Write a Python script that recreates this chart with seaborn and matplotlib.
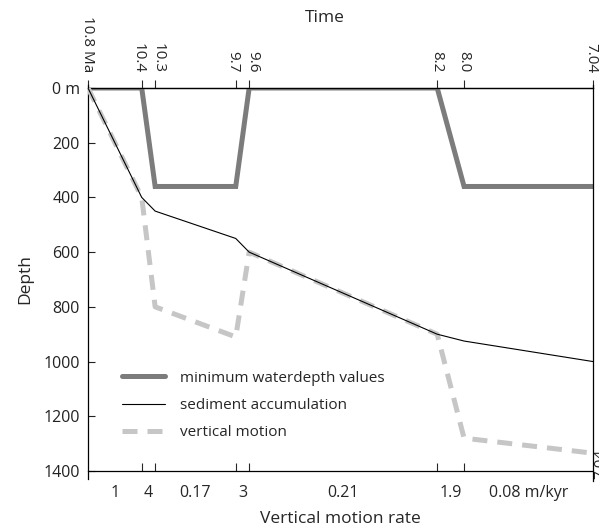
#
# Depth history plot: waterdepth, sediment accumulation and vertical motion
#

import matplotlib.pyplot as plt
import matplotlib.transforms as mtransforms
import seaborn as sns
import pandas as pd

# ages (Ma) where the curves bend, and depths (m)
ages = [10.8, 10.4, 10.3, 9.7, 9.6, 8.2, 8.0, 7.04]
age_labels = ['10.8 Ma', '10.4', '10.3', '9.7', '9.6', '8.2', '8.0', '7.04']
waterdepth = [0, 0, 360, 360, 0, 0, 360, 360]
sediment = [0, 400, 450, 550, 600, 900, 925, 1000]
vertical = [0, 400, 800, 910, 600, 900, 1280, 1335]

rate_labels = ['1', '4', '0.17', '3', '0.21', '1.9', '0.08 m/kyr']
depth_ticks = [0, 200, 400, 600, 800, 1000, 1200, 1400]
depth_labels = ['0 m', '200', '400', '600', '800', '1000', '1200', '1400']

if __name__ == '__main__':

    sns.set_theme(style="ticks")
    plt.rcParams['font.family'] = ['Open Sans', 'DejaVu Sans']

    fig = plt.figure(figsize=(5.99, 5.26), dpi=100)
    ax = fig.add_axes([0.1469, 0.1046, 0.8431, 0.7281])

    df = pd.DataFrame({'age': ages, 'water': waterdepth,
                       'sed': sediment, 'vert': vertical})

    sns.lineplot(data=df, x='age', y='water', sort=False, estimator=None, ax=ax,
                 color='#7c7c7c', lw=3.6, solid_joinstyle='miter',
                 label='minimum waterdepth values', zorder=2)
    sns.lineplot(data=df, x='age', y='sed', sort=False, estimator=None, ax=ax,
                 color='black', lw=0.8, label='sediment accumulation', zorder=4)
    sns.lineplot(data=df, x='age', y='vert', sort=False, estimator=None, ax=ax,
                 color='#c6c6c6', lw=3.6, linestyle=(0, (3, 2)),
                 dash_capstyle='butt', label='vertical motion', zorder=3)

    ax.set_xlim(ages[0], ages[-1])
    ax.set_ylim(1400, 0)

    # left axis
    ax.set_yticks(depth_ticks, depth_labels)
    ax.tick_params(axis='y', direction='in', length=5, width=0.8, pad=6,
                   labelsize=11.5, colors='#222222')
    ax.set_ylabel('Depth', fontsize=12.5, labelpad=7)

    # bottom axis: ticks at the same ages, rates labelled in between
    mids = [(a + b) / 2 for a, b in zip(ages[:-1], ages[1:])]
    ax.set_xticks(ages[1:-1])
    ax.set_xticks(mids, rate_labels, minor=True)
    ax.tick_params(axis='x', which='major', direction='in', length=6,
                   width=0.8, labelbottom=False)
    ax.tick_params(axis='x', which='minor', length=0, pad=10, labelsize=11.5)
    ax.set_xlabel('Vertical motion rate', fontsize=12.5, labelpad=7)

    # top axis: time
    top = ax.secondary_xaxis('top')
    top.set_xticks(ages, age_labels)
    top.tick_params(direction='out', length=6, width=0.8, pad=5,
                    labelrotation=-90, labelsize=11)
    top.spines['top'].set_linewidth(0.9)
    # spread the labels of close tick pairs apart a little
    nudge = {'10.4': -2.5, '10.3': 2.5, '9.7': -2.5, '9.6': 2.5, '7.04': -1.5}
    for lab in top.get_xticklabels():
        dx = nudge.get(lab.get_text(), 0)
        if dx:
            lab.set_transform(lab.get_transform() +
                              mtransforms.ScaledTranslation(dx / 72, 0, fig.dpi_scale_trans))
    fig.text(325 / 599, 1 - 18 / 526, 'Time', ha='center', va='center',
             fontsize=12.5)

    for side in ['left', 'right', 'bottom', 'top']:
        ax.spines[side].set_color('black')
        ax.spines[side].set_linewidth(0.9)
    ax.spines['left'].set_bounds(1430, -10)
    ax.spines['right'].set_bounds(1435, -10)

    # clipped copy of the last age label at the bottom right corner
    ax.text(7.04, 1374, '7.04', rotation=90, fontsize=11, ha='left',
            va='center', clip_on=False)

    ax.legend(loc='upper left', bbox_to_anchor=(0.067, 0.262), frameon=False,
              borderpad=0, borderaxespad=0, handlelength=2.8,
              handletextpad=1.0, labelspacing=0.8, fontsize=11)

    ax.grid(False)
    plt.savefig('out.png', dpi=100)
